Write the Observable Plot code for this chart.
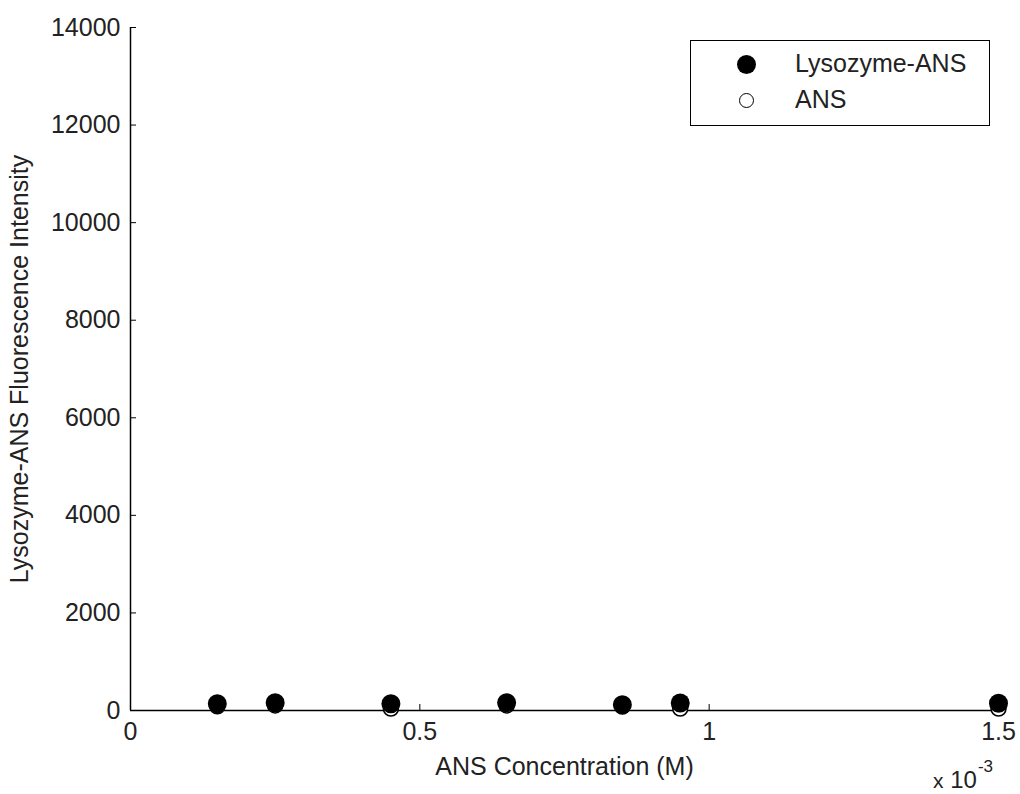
<!DOCTYPE html>
<html><head><meta charset="utf-8">
<script src="https://cdn.jsdelivr.net/npm/d3@7"></script>
<script src="https://cdn.jsdelivr.net/npm/@observablehq/plot@0.6"></script>
<style>
body{margin:0;background:#fff;font-family:"Liberation Sans",Arial,sans-serif;}
#wrap{position:relative;width:1020px;height:794px;}
#legend{position:absolute;left:690px;top:40px;width:298px;height:84px;border:1px solid #000;background:#fff;font-size:25px;color:#222;}
.mk{position:absolute;box-sizing:border-box;border-radius:50%;}
.lt{position:absolute;left:104px;white-space:nowrap;line-height:1;}
#exp{position:absolute;left:933px;top:768px;font-size:24px;line-height:1;color:#222;white-space:nowrap;}
#exp .x{font-size:21px;}
#exp sup{font-size:17px;position:relative;top:-10px;vertical-align:top;margin-left:1px;}
.ylab text, .xlab text{font-size:26px;}
</style></head>
<body><div id="wrap"><div id="chart"></div>
<div id="legend"></div>
<div id="exp"><span class="x">x</span> 10<sup>-3</sup></div></div>
<script>
const concentration = [0.15, 0.25, 0.45, 0.65, 0.85, 0.95, 1.5]; // x 10^-3 M
const lysozymeANS = [137, 160, 140, 160, 120, 155, 150];
const ansOnly = [85, 105, 40, 105, 80, 40, 40];
const xTicks = [0, 0.5, 1, 1.5];
const yTicks = [0, 2000, 4000, 6000, 8000, 10000, 12000, 14000];
const seriesNames = ["Lysozyme-ANS", "ANS"];

const lys = concentration.map((c, i) => ({x: c, y: lysozymeANS[i]}));
const ans = concentration.map((c, i) => ({x: c, y: ansOnly[i]}));

const chart = Plot.plot({
  width: 1020, height: 794,
  marginLeft: 130, marginRight: 22, marginTop: 27, marginBottom: 84,
  style: {fontFamily: "'Liberation Sans', Arial, sans-serif", fontSize: "25px", color: "#222", background: "#fff"},
  x: {domain: [0, 1.5]},
  y: {domain: [0, 14000]},
  marks: [
    Plot.axisX({ticks: xTicks, tickSize: 6, dy: -6, text: null, label: null, stroke: "#000"}),
    Plot.axisX({ticks: xTicks, tickSize: 0, tickPadding: 12, tickFormat: d => String(d), label: "ANS Concentration (M)", labelAnchor: "center", labelArrow: "none", labelOffset: 64, fill: "#222"}),
    Plot.axisY({ticks: yTicks, tickSize: 6, dx: 6, text: null, label: null, stroke: "#000"}),
    Plot.axisY({ticks: yTicks, tickSize: 0, tickPadding: 10, tickFormat: d => String(d), label: "Lysozyme-ANS Fluorescence Intensity", labelAnchor: "center", labelArrow: "none", labelOffset: 120, fill: "#222"}),
    Plot.ruleX([0], {stroke: "#000", strokeWidth: 1.5}),
    Plot.ruleY([0], {stroke: "#000", strokeWidth: 1.5}),
    Plot.dot(ans, {x: "x", y: "y", r: 7.5, stroke: "#000", fill: "#fff", strokeWidth: 1.5}),
    Plot.dot(lys, {x: "x", y: "y", r: 9.5, fill: "#000", stroke: "none"})
  ]
});
document.getElementById("chart").appendChild(chart);

const lg = document.getElementById("legend");
seriesNames.forEach((name, i) => {
  const cy = i === 0 ? 23 : 59;
  const mk = document.createElement("span");
  mk.className = "mk";
  if (i === 0) { mk.style.cssText = `width:19px;height:19px;background:#000;left:46px;top:${cy - 9.5}px`; }
  else { mk.style.cssText = `width:15px;height:15px;border:1.5px solid #000;background:#fff;left:48px;top:${cy - 7.5}px`; }
  const t = document.createElement("span");
  t.className = "lt"; t.textContent = name; t.style.top = (cy - 13) + "px";
  lg.appendChild(mk); lg.appendChild(t);
});
</script></body></html>
